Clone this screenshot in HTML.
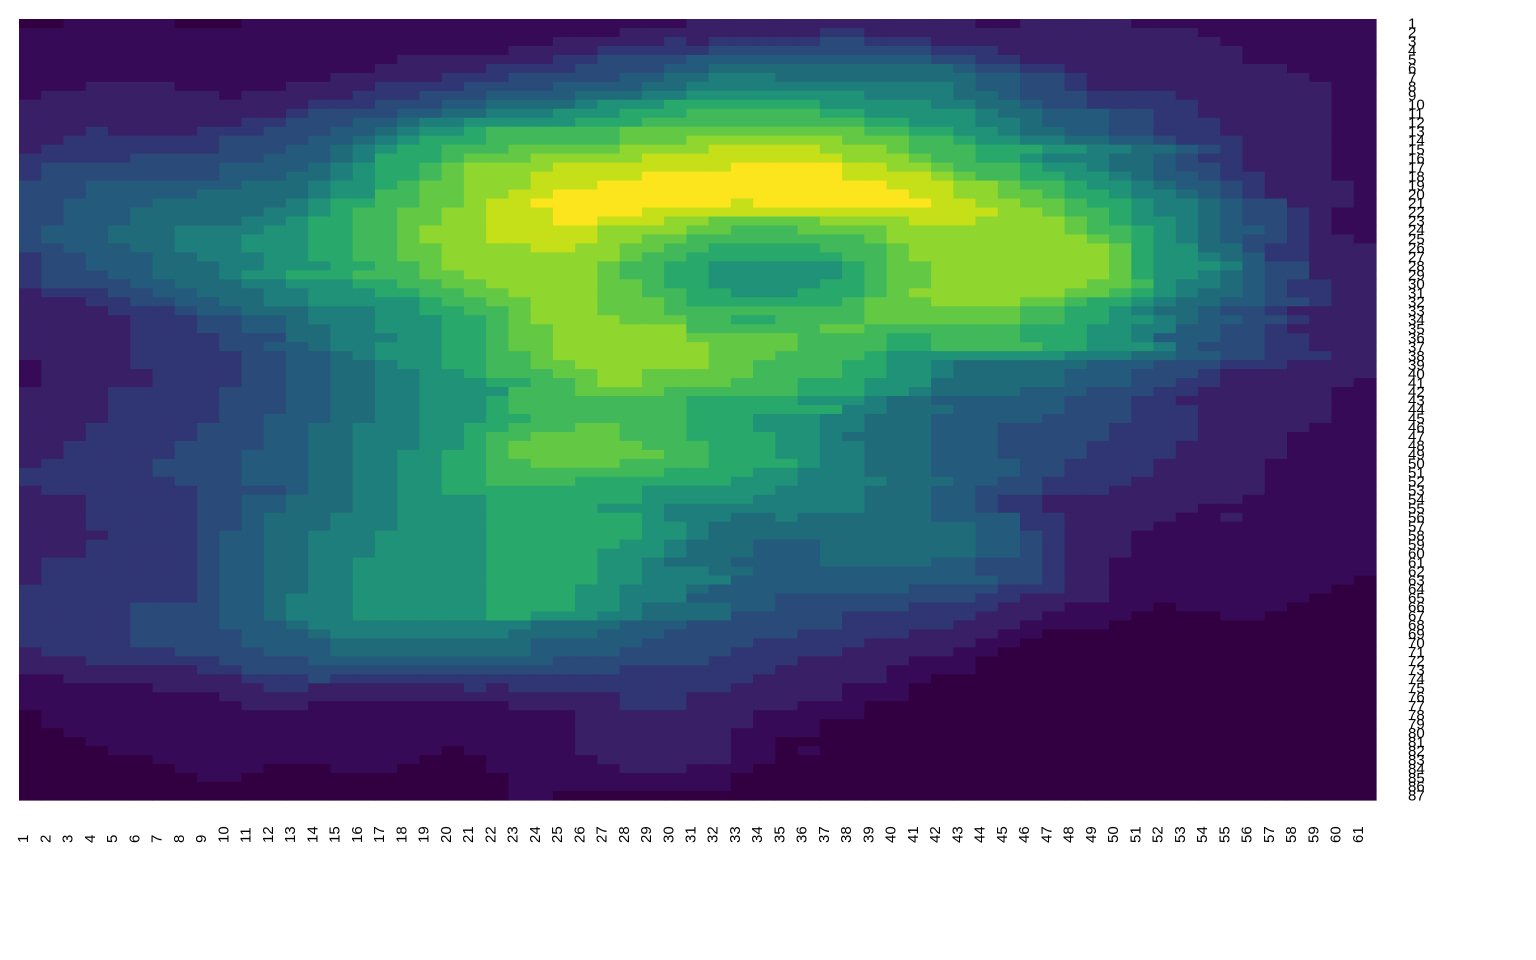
<!DOCTYPE html>
<html><head><meta charset="utf-8"><title>Volcano heatmap</title>
<style>html,body{margin:0;padding:0;background:#fff}svg{display:block}</style></head>
<body>
<svg id="chart" width="1536" height="960" xmlns="http://www.w3.org/2000/svg">
<g id="cells"></g>
<g id="xlabels" font-family="Liberation Sans, sans-serif" font-size="15" fill="#000"></g>
<g id="ylabels" font-family="Liberation Sans, sans-serif" font-size="15" fill="#000"></g>
</svg>
<script>
const palette = ["#320040","#370a57","#381f66","#303573","#2a4a7a","#245a7b","#206b7a","#1e7e7c","#1f9278","#29a86b","#41b95a","#63c944","#8fd62e","#c5df18","#fde51d"];
const colLabels = Array.from({length:61},(_,i)=>String(i+1));
const rowLabels = Array.from({length:87},(_,i)=>String(i+1));
const rowRuns = [
"0@0 1@2 0@7 1@10 2@30 1@43 2@45 1@50",
"1@0 2@27 3@36 2@38 1@53",
"1@0 2@24 3@29 2@30 3@31 4@36 3@38 2@41 1@54",
"1@0 2@22 3@26 4@31 3@41 2@44 1@55",
"1@0 2@17 3@24 4@26 5@30 4@41 3@43 2@45 1@55",
"1@0 2@16 3@21 4@25 5@29 6@31 5@42 4@43 3@45 2@47 1@57",
"1@0 2@14 3@19 4@22 5@27 6@29 7@31 6@34 5@43 4@45 3@47 2@48 1@58",
"1@0 2@3 1@7 2@12 3@16 4@20 5@24 6@28 7@30 6@42 5@43 4@45 3@47 2@48 1@59",
"1@0 2@1 1@9 2@10 3@15 4@18 5@21 6@25 7@28 8@30 7@38 6@42 5@44 4@45 3@48 2@52 1@59",
"2@0 3@13 4@16 5@19 6@21 7@25 8@26 9@29 8@36 7@41 6@43 5@45 4@46 3@48 2@53 1@59",
"2@0 3@12 4@13 5@17 6@19 7@21 8@24 9@27 a@30 9@36 8@38 7@43 6@44 5@46 4@49 3@51 2@53 1@59",
"2@0 3@10 4@12 5@15 6@17 7@18 8@20 9@25 a@28 9@38 8@40 7@43 6@45 5@46 4@49 3@51 2@54 1@59",
"2@0 3@3 2@4 3@8 4@11 5@14 6@16 7@17 8@18 9@20 a@21 b@27 a@38 9@40 8@42 7@44 6@45 5@47 4@49 3@51 2@54 1@59",
"2@0 3@2 4@9 5@13 6@15 7@16 8@17 9@18 a@21 b@27 c@30 b@37 a@40 9@42 8@43 7@45 6@47 5@49 4@51 3@52 2@55 1@59",
"2@0 3@1 4@9 5@12 6@14 7@15 8@16 9@17 a@19 b@22 c@27 d@31 c@36 b@39 a@40 9@43 8@46 7@48 6@50 5@52 4@53 3@54 2@55 1@59",
"3@0 4@5 5@11 6@14 7@15 9@16 a@19 b@20 c@23 d@28 c@37 b@40 a@41 9@43 8@45 7@46 6@49 5@51 4@52 3@53 2@55 1@59",
"3@0 4@1 5@9 6@13 7@14 8@15 9@16 a@18 b@19 c@20 d@24 e@32 d@37 c@39 b@41 a@42 9@45 8@46 7@48 6@49 5@51 4@52 3@54 2@55 1@59",
"3@0 4@1 5@9 6@12 7@14 8@15 9@16 a@18 b@19 c@20 d@23 e@28 d@37 c@41 b@42 a@43 9@45 8@47 7@49 6@50 5@51 4@53 3@54 2@56 1@59",
"4@0 5@3 6@10 7@13 8@14 9@16 a@17 b@18 c@20 d@23 e@26 d@39 c@42 b@44 a@45 9@47 8@48 7@50 6@51 5@52 4@54 3@55 2@56 1@60",
"4@0 5@3 6@8 7@13 8@14 a@16 b@18 c@20 d@22 e@24 d@40 c@42 b@44 a@46 9@47 8@49 7@50 6@52 5@53 4@54 3@55 2@56 1@60",
"4@0 5@2 6@6 7@12 8@13 9@14 a@16 b@18 c@20 d@21 e@23 d@32 e@33 d@41 c@43 b@45 a@47 9@48 8@50 7@51 6@53 5@54 4@55 2@57 1@60",
"4@0 5@2 6@5 7@11 8@13 9@14 a@15 b@17 c@19 d@21 e@24 d@28 c@44 b@46 a@47 9@49 8@50 7@51 6@53 5@54 4@55 3@57 2@58 1@59",
"4@0 5@2 6@5 7@10 8@12 9@13 a@15 b@17 c@19 d@21 e@24 d@26 c@29 b@31 c@36 d@40 c@43 b@47 a@48 9@49 8@50 7@52 6@53 5@54 4@55 3@57 2@58 1@59",
"4@0 5@1 6@4 7@7 8@11 9@13 a@15 b@17 c@18 d@21 c@26 b@30 a@32 b@35 c@39 b@47 a@48 9@50 8@51 7@52 6@53 5@54 4@56 3@57 2@58 1@59",
"4@0 5@1 6@4 7@7 8@10 9@13 a@15 b@17 c@18 d@21 c@26 b@28 a@30 b@38 c@39 b@48 a@49 9@50 8@51 7@52 6@53 5@54 4@55 3@57 2@58 1@60",
"4@0 5@2 6@5 7@7 8@10 9@13 a@15 b@17 c@19 d@23 c@25 b@27 a@29 9@31 a@36 b@39 c@40 b@49 9@50 8@51 6@53 4@55 3@56 2@58",
"3@0 4@1 5@3 6@6 7@8 8@11 9@13 a@15 b@17 c@19 b@27 a@28 9@30 a@37 b@39 c@40 b@49 9@50 8@51 7@53 6@54 5@55 3@56 2@58",
"3@0 4@1 5@3 6@6 7@9 8@11 9@14 a@16 b@18 c@19 b@26 a@27 9@29 8@31 9@37 a@38 b@39 c@41 b@49 9@50 8@51 7@54 5@55 4@56 2@58",
"3@0 4@1 5@4 6@6 7@9 8@10 9@12 a@15 b@18 c@20 b@26 a@27 9@29 8@31 9@37 a@38 b@39 c@41 b@49 9@50 8@51 7@53 6@54 5@55 4@56 2@58",
"3@0 4@1 5@5 6@7 7@10 8@12 9@15 a@17 b@19 c@21 b@26 a@28 9@29 8@31 9@36 a@38 b@39 c@41 b@48 a@50 8@51 7@52 6@54 5@55 4@56 3@57 2@59",
"2@0 3@1 4@4 5@6 6@8 7@11 8@13 9@16 a@18 b@20 c@22 b@26 a@28 9@30 8@32 9@35 a@38 b@39 c@40 b@47 a@49 9@50 8@51 7@52 6@53 5@55 4@56 3@57 2@59",
"2@0 3@3 4@5 5@7 6@9 7@11 8@13 9@18 a@19 b@21 c@23 b@26 a@29 9@30 a@37 b@38 c@41 b@45 a@47 9@48 8@50 7@51 6@52 5@54 4@56 3@58 2@59",
"2@0 3@4 4@7 5@8 6@10 7@13 8@16 9@18 a@20 b@22 c@23 b@26 a@29 b@38 a@45 9@47 8@49 7@50 6@51 5@53 4@54 3@56 2@57",
"2@0 3@5 4@8 5@10 6@12 7@13 8@16 9@19 a@21 b@22 c@23 b@27 a@30 9@32 a@34 b@38 a@45 9@47 8@49 7@51 6@52 5@53 4@55 3@57 2@58",
"2@0 3@5 4@8 5@10 6@12 7@14 8@16 9@19 a@21 b@22 c@24 a@30 b@36 a@38 9@45 8@48 7@50 5@52 4@54 3@56 2@57",
"2@0 3@5 4@9 6@12 7@14 8@17 9@19 a@21 b@22 c@24 b@30 a@35 9@39 a@41 9@45 8@48 7@50 5@51 4@54 3@56 2@58",
"2@0 3@5 4@9 5@11 6@13 7@14 8@16 9@19 a@21 b@22 c@24 b@31 a@35 9@39 a@41 9@46 8@48 7@51 5@52 4@53 3@56 2@58",
"2@0 3@5 4@10 5@12 6@14 7@15 8@16 9@19 a@21 b@23 c@24 b@31 a@34 9@38 8@39 7@47 6@50 5@52 4@54 3@56 2@59",
"1@0 2@1 3@5 4@10 5@12 6@14 7@16 8@17 9@19 a@21 b@23 c@25 b@31 a@33 9@37 8@39 7@41 6@42 5@48 4@51 3@54 2@57",
"1@0 2@1 3@6 4@10 5@12 6@14 7@16 8@18 9@20 a@21 b@24 c@26 b@28 a@33 9@37 8@39 7@41 6@42 5@47 4@50 3@53 2@54",
"1@0 2@1 3@6 4@10 5@12 6@14 7@16 8@18 9@21 a@23 b@25 c@26 b@28 a@32 9@35 8@38 6@41 5@47 4@50 3@52 2@54 1@60",
"2@0 3@4 4@9 5@12 6@14 7@16 8@18 a@22 b@25 a@29 9@35 8@38 7@40 6@41 5@45 4@48 3@51 2@53 1@59",
"2@0 3@4 4@9 5@12 6@14 7@16 8@18 9@21 a@22 9@30 8@35 7@38 6@39 5@41 4@47 3@50 2@52 1@59",
"2@0 3@4 4@9 5@12 6@14 7@16 8@18 9@21 a@22 9@30 7@37 6@39 5@42 4@47 3@50 2@53 1@59",
"2@0 3@4 4@9 5@11 6@14 7@16 8@18 9@21 a@23 9@30 8@33 7@36 6@38 5@41 4@46 3@50 2@53 1@59",
"2@0 3@3 4@8 5@11 6@13 7@15 8@18 9@20 a@22 b@25 a@27 9@30 8@33 7@36 6@38 5@41 4@44 3@49 2@53 1@58",
"2@0 3@3 4@8 5@11 6@13 7@15 8@18 9@20 a@21 b@23 a@27 9@30 8@34 7@36 6@37 5@41 4@44 3@49 2@53 1@57",
"2@0 3@2 4@7 5@11 6@13 7@15 8@18 9@20 a@21 b@22 a@28 9@31 8@34 7@36 6@38 5@41 4@44 3@48 2@52 1@57",
"2@0 3@2 4@7 5@10 6@13 7@15 8@17 9@19 a@21 b@22 a@29 9@31 8@34 7@36 6@38 5@41 4@44 3@48 2@52 1@57",
"2@0 3@1 4@6 5@10 6@13 7@15 8@17 9@19 a@21 b@23 a@27 9@31 8@35 7@36 6@38 5@41 4@45 3@47 2@51 1@56",
"3@0 4@6 5@10 6@13 7@15 8@17 9@19 a@21 9@29 8@33 7@35 6@38 5@41 4@45 3@47 2@51 1@56",
"3@0 4@7 5@10 6@13 7@15 8@17 9@19 a@21 9@25 8@32 7@35 6@39 5@42 4@44 3@46 2@50 1@56",
"2@0 3@1 4@8 5@12 6@13 7@15 8@17 9@19 8@28 7@34 6@38 5@41 4@43 3@46 2@49 1@56",
"2@0 3@3 4@8 5@10 6@12 7@15 8@17 9@21 8@28 7@33 6@38 5@41 4@43 3@44 2@46 1@55",
"2@0 3@3 4@8 5@10 6@12 7@15 8@17 9@21 8@26 7@29 6@38 5@41 4@43 3@44 2@46 1@53",
"2@0 3@3 4@8 5@10 6@11 7@14 8@17 9@21 8@28 7@29 6@32 7@34 6@35 5@41 3@45 2@47 1@52 2@54 1@55",
"2@0 3@3 4@8 5@10 6@11 7@14 8@17 9@21 8@28 7@30 6@31 5@43 3@45 2@47 1@51",
"2@0 3@4 4@8 5@9 6@11 7@13 8@16 9@21 8@28 7@30 6@31 5@43 4@45 3@46 2@47 1@50",
"2@0 3@3 4@8 5@9 6@11 7@13 8@16 9@21 8@27 7@29 6@30 5@33 6@36 5@43 4@45 3@46 2@47 1@50",
"2@0 3@3 4@8 5@9 6@11 7@13 8@16 9@21 8@26 7@29 6@30 5@33 6@36 5@43 4@45 3@46 2@47 1@50",
"2@0 3@1 4@8 5@9 6@11 7@13 8@15 9@21 8@26 7@28 6@29 5@32 6@36 5@41 4@43 3@46 2@47 1@49",
"2@0 3@1 4@8 5@9 6@11 7@13 8@15 9@21 8@26 7@28 6@31 5@33 4@43 3@46 2@47 1@49",
"2@0 3@1 4@8 5@9 6@11 7@13 8@15 9@21 8@26 7@28 5@32 4@44 3@46 2@47 1@49 0@60",
"3@0 4@8 5@9 6@11 7@13 8@15 9@21 8@25 7@27 6@30 5@31 4@40 3@44 2@47 1@49 0@59",
"3@0 4@8 5@9 6@11 7@12 8@15 9@21 8@25 7@27 5@30 4@34 3@43 2@45 1@49 0@58",
"3@0 4@5 5@9 6@11 7@12 8@15 9@21 8@25 7@27 6@28 5@32 4@34 3@40 2@44 1@47 0@51 1@52 0@57",
"3@0 4@5 5@9 6@11 7@12 8@15 9@21 8@23 7@26 6@28 4@32 3@37 2@43 1@46 0@50 1@54 0@56",
"3@0 4@5 5@9 6@12 7@13 6@23 5@27 4@30 3@37 2@42 1@45 0@49",
"3@0 4@5 5@10 6@13 7@14 6@22 5@26 4@29 3@35 2@40 1@44 0@46",
"3@0 4@5 5@10 6@14 5@23 4@28 3@33 2@38 1@43 0@45",
"2@0 3@1 4@7 5@11 6@14 5@23 4@27 3@32 2@37 1@42 0@44",
"2@0 3@3 4@9 5@13 4@24 3@31 2@35 1@40 0@43",
"2@0 3@8 4@10 3@27 2@34 1@39 0@43",
"1@0 2@2 3@10 4@13 3@14 2@33 1@39 0@41",
"1@0 2@6 3@11 2@13 3@20 2@21 3@22 2@32 1@37 0@40",
"1@0 2@9 3@27 2@30 1@37 0@40",
"1@0 2@10 1@13 2@22 3@27 2@30 1@35 0@38",
"0@0 1@1 2@25 1@33 0@38",
"0@0 1@1 2@25 1@33 0@36",
"0@0 1@2 2@25 1@32 0@36",
"0@0 1@3 2@25 1@32 0@34",
"0@0 1@4 0@19 1@20 2@25 1@32 0@34 1@35 0@36",
"0@0 1@6 0@18 1@21 2@26 1@32 0@34",
"0@0 1@7 0@11 1@14 0@17 1@21 2@27 1@30 0@33",
"0@0 1@8 0@10 1@22 0@32",
"0@0 1@22 0@32",
"0@0 1@22 0@24"
];

const NS = "http://www.w3.org/2000/svg";
const X0 = 19, X1 = 1376, Y0 = 19, Y1 = 800;
const nCols = colLabels.length, nRows = rowLabels.length;
const cw = (X1 - X0) / nCols, rh = (Y1 - Y0) / nRows;
function xScale(c){ return X0 + c * cw; }
function yScale(r){ return Y0 + r * rh; }

function decodeRow(s){
  const toks = s.trim().split(/\s+/).map(t => { const p = t.split('@'); return [parseInt(p[0],16), parseInt(p[1],10)]; });
  const out = new Array(nCols).fill(0);
  for (let i = 0; i < toks.length; i++) {
    const end = i + 1 < toks.length ? toks[i+1][1] : nCols;
    for (let c = toks[i][1]; c < end && c < nCols; c++) out[c] = toks[i][0];
  }
  return out;
}
const values = rowRuns.map(decodeRow);

const cells = document.getElementById('cells');
values.forEach((row, r) => {
  row.forEach((v, c) => {
    const rect = document.createElementNS(NS, 'rect');
    
    
    rect.setAttribute('x', xScale(c).toFixed(2));
    rect.setAttribute('y', yScale(r).toFixed(2));
    rect.setAttribute('width', (cw + 0.6).toFixed(2));
    rect.setAttribute('height', (rh + 0.6).toFixed(2));
    rect.setAttribute('fill', palette[Math.max(0, Math.min(palette.length-1, v))]);
    cells.appendChild(rect);
  });
});

const xg = document.getElementById('xlabels');
colLabels.forEach((lab, c) => {
  const t = document.createElementNS(NS, 'text');
  
  
  const x = xScale(c + 0.5) - 2, y = 843;
  t.setAttribute('x', x);
  t.setAttribute('y', y);
  t.setAttribute('transform', 'rotate(-90 ' + x + ' ' + y + ')');
  t.textContent = lab;
  xg.appendChild(t);
});

const yg = document.getElementById('ylabels');
rowLabels.forEach((lab, r) => {
  const t = document.createElementNS(NS, 'text');
  
  
  t.setAttribute('x', 1408);
  t.setAttribute('y', (yScale(r + 0.5) + 5.2).toFixed(2));
  t.textContent = lab;
  yg.appendChild(t);
});
</script>
</body></html>
